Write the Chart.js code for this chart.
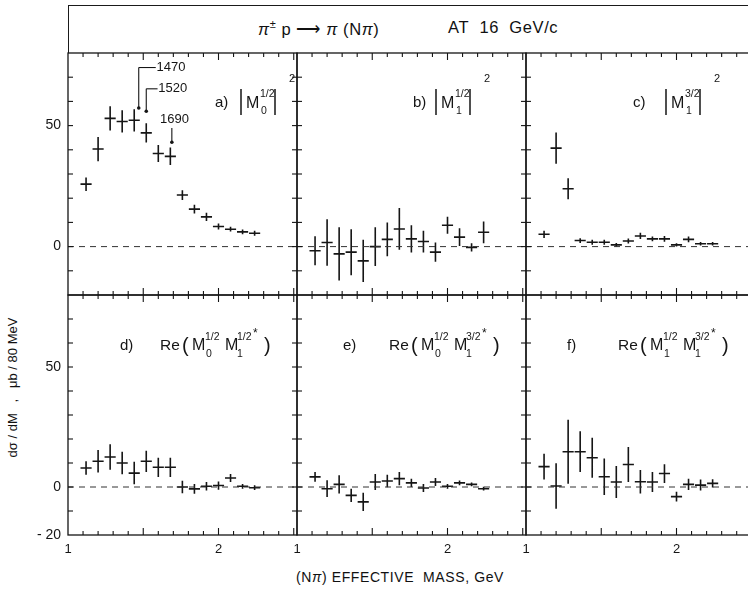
<!DOCTYPE html>
<html>
<head>
<meta charset="utf-8">
<script src="https://cdn.jsdelivr.net/npm/chart.js@4.4.0/dist/chart.umd.min.js"></script>
<style>
  html, body { margin: 0; padding: 0; background: #fff; overflow: hidden; }
  body { width: 748px; height: 592px; position: relative; font-family: "Liberation Sans", Arial, sans-serif; color: #111; }
  canvas { position: absolute; }
  #titlebox { position: absolute; left: 68px; top: 5px; width: 720px; height: 48px; border-top: 1.5px solid #1a1a1a; border-left: 1.5px solid #1a1a1a; box-sizing: border-box; }
  .t { position: absolute; white-space: nowrap; font-size: 16.5px; letter-spacing: 0.6px; }
  #ytitle { position: absolute; left: -88px; top: 380px; width: 200px; text-align: center; font-size: 13px; transform: rotate(-90deg); white-space: pre; }
  #xtitle { position: absolute; left: 250px; top: 569px; width: 300px; text-align: center; font-size: 14px; letter-spacing: 0.6px; }
</style>
</head>
<body>
<div id="titlebox"></div>
<div class="t" style="left:258px; top:18px;"><i>π</i><sup style="font-size:11px">±</sup> p &#10230; <i>π</i> (N<i>π</i>)</div>
<div class="t" style="left:448px; top:18px;">AT&nbsp; 16&nbsp; GeV/c</div>
<div id="ytitle">dσ / dM   ,   μb / 80 MeV</div>
<div id="xtitle">(N<i>π</i>) EFFECTIVE&nbsp; MASS, GeV</div>

<script>
// bin centres (GeV), 80 MeV bins
const massBins = [1.12, 1.20, 1.28, 1.36, 1.44, 1.52, 1.60, 1.68, 1.76, 1.84, 1.92, 2.00, 2.08, 2.16, 2.24];

// a) |M0 1/2|^2
const aVal = [25.8, 40.3, 53.0, 51.7, 52.2, 47.0, 38.5, 37.3, 21.3, 15.5, 12.3, 8.3, 7.2, 6.1, 5.5];
const aErr = [2.8, 5.0, 5.0, 4.6, 4.6, 4.0, 3.5, 3.6, 2.0, 1.8, 1.7, 1.2, 1.0, 1.0, 1.0];
// b) |M1 1/2|^2
const bVal = [-1.7, 1.7, -3.0, -2.3, -5.9, 0.0, 3.0, 7.3, 3.2, 2.1, -2.3, 8.8, 3.9, -0.3, 5.9];
const bErr = [6.0, 9.6, 11.0, 9.5, 8.7, 8.0, 7.0, 8.6, 5.6, 4.5, 4.0, 3.5, 3.7, 1.7, 4.5];
// c) |M1 3/2|^2
const cVal = [5.1, 40.7, 23.9, 2.5, 1.8, 1.8, 0.7, 2.3, 4.4, 3.2, 3.2, 0.7, 3.0, 1.2, 1.2];
const cErr = [1.5, 6.5, 4.3, 1.0, 1.0, 1.0, 0.8, 1.0, 1.3, 1.0, 1.2, 0.7, 1.2, 0.7, 0.7];
// d) Re(M0 1/2 M1 1/2*)
const dVal = [7.9, 10.7, 12.5, 10.0, 5.8, 10.7, 8.2, 8.2, 0.0, -0.8, 0.3, 0.6, 3.75, 0.3, -0.3];
const dErr = [2.8, 4.7, 5.3, 4.7, 4.7, 4.4, 4.0, 4.0, 2.6, 2.0, 1.8, 1.7, 1.7, 1.0, 1.0];
// e) Re(M0 1/2 M1 3/2*)
const eVal = [4.2, -0.7, 1.1, -3.5, -6.2, 2.1, 2.5, 3.5, 1.7, -0.4, 2.1, 0.3, 1.7, 1.1, -0.7];
const eErr = [2.0, 3.5, 3.8, 2.8, 3.8, 3.3, 2.6, 2.8, 1.7, 1.7, 1.7, 1.0, 1.0, 0.8, 0.8];
// f) Re(M1 1/2 M1 3/2*)
const fVal = [8.5, 0.4, 14.7, 14.7, 12.2, 4.3, 2.1, 9.4, 2.2, 2.1, 5.6, -4.0, 1.1, 0.8, 1.5];
const fErr = [5.4, 9.5, 13.3, 8.5, 8.3, 7.6, 6.7, 7.3, 4.9, 4.2, 3.9, 2.0, 2.3, 2.3, 1.7];

// tick labels
const xTickLabels = [1, 2];
const yTickLabelsTop = [50, 0];
const yTickLabelsBottom = [50, 0, -20];

// resonance markers in panel a
const resMass = [1.47, 1.52, 1.69];
const resLabel = ['1470', '1520', '1690'];
const resTip = [57.3, 55.9, 43.1];

const X_MIN = 1.0, X_MAX = 2.5216, Y_MIN = -20, Y_MAX = 80;
const HALF_BIN = 0.037;
const INK = '#151515';

function crossData(vals, errs) {
  const pts = [];
  massBins.forEach((m, i) => {
    const v = vals[i], e = errs[i];
    pts.push({x: m - HALF_BIN, y: v}, {x: m + HALF_BIN, y: v}, {x: m, y: null});
    pts.push({x: m, y: v - e}, {x: m, y: v + e}, {x: m, y: null});
  });
  return pts;
}

function txt(ctx, s, x, y, size, align, font) {
  ctx.font = (font || '') + size + 'px "Liberation Sans", Arial, sans-serif';
  ctx.textAlign = align || 'left';
  ctx.textBaseline = 'middle';
  ctx.fillText(s, x, y);
}
function seg(ctx, x1, y1, x2, y2) {
  ctx.beginPath(); ctx.moveTo(x1, y1); ctx.lineTo(x2, y2); ctx.stroke();
}

// |M ^sup _sub|^2 label
function absLabel(ctx, a, s) {
  const my = a.top + 50, bx = a.left + s.barX;
  txt(ctx, s.tag, a.left + s.tagX, my, 15);
  ctx.lineWidth = 1.5;
  seg(ctx, bx, my - 14, bx, my + 12);
  seg(ctx, bx + 34, my - 14, bx + 34, my + 12);
  txt(ctx, 'M', bx + 5, my + 1, 16);
  txt(ctx, s.sup, bx + 19, my - 9, 10.5);
  txt(ctx, s.sub, bx + 20, my + 8, 10.5);
  txt(ctx, '2', bx + 48, my - 24, 11);
}

// Re( M M * ) label
function reLabel(ctx, a, s) {
  const my = a.top + 51, L = a.left;
  txt(ctx, s.tag, L + s.tagX, my, 15);
  txt(ctx, 'Re', L + 92, my, 15.5);
  txt(ctx, '(', L + 114, my, 20);
  txt(ctx, 'M', L + 124, my, 16);
  txt(ctx, s.sup1, L + 137, my - 9, 10.5);
  txt(ctx, s.sub1, L + 138, my + 8, 10.5);
  txt(ctx, 'M', L + 157, my, 16);
  txt(ctx, s.sup2, L + 169, my - 9, 10.5);
  txt(ctx, s.sub2, L + 169, my + 8, 10.5);
  txt(ctx, '*', L + 185, my - 12, 12);
  txt(ctx, ')', L + 196, my, 20);
}

const panelFrame = {
  id: 'panelFrame',
  afterDraw(chart, args, o) {
    const {ctx, chartArea: a, scales: {x, y}} = chart;
    ctx.save();
    ctx.strokeStyle = INK;
    ctx.fillStyle = INK;
    ctx.lineWidth = 1.3;
    ctx.strokeRect(a.left, a.top, a.right - a.left, a.bottom - a.top);

    // x ticks every 0.1 GeV, longer at 1.5 and 2.0
    ctx.lineWidth = 1.1;
    for (let k = 1; k <= 15; k++) {
      const px = x.getPixelForValue(1 + k / 10);
      if (px > a.right - 2) continue;
      const len = (k % 5 === 0) ? 7 : 4;
      seg(ctx, px, a.top, px, a.top + len);
      seg(ctx, px, a.bottom, px, a.bottom - len);
    }
    // y ticks every 10
    for (let k = -1; k <= 7; k++) {
      const py = y.getPixelForValue(k * 10);
      seg(ctx, a.left, py, a.left + 5, py);
      seg(ctx, a.right, py, a.right - 5, py);
    }

    if (o.yLabels) {
      o.yLabels.forEach(v => txt(ctx, v < 0 ? '- ' + (-v) : String(v), a.left - 7, y.getPixelForValue(v), 14, 'right'));
    }
    if (o.xLabels) {
      xTickLabels.forEach(v => txt(ctx, String(v), x.getPixelForValue(v), a.bottom + 14, 13, 'center'));
    }

    if (o.abs) absLabel(ctx, a, o.abs);
    if (o.re) reLabel(ctx, a, o.re);

    if (o.resonances) {
      ctx.lineWidth = 1.1;
      const X = v => x.getPixelForValue(v), Y = v => y.getPixelForValue(v);
      // 1470
      seg(ctx, X(resMass[0]), Y(resTip[0]), X(resMass[0]), Y(74));
      seg(ctx, X(resMass[0]), Y(74), X(1.583), Y(74));
      txt(ctx, resLabel[0], X(1.588), Y(74), 13);
      // 1520
      seg(ctx, X(resMass[1]), Y(resTip[1]), X(resMass[1]), Y(65.2));
      seg(ctx, X(resMass[1]), Y(65.2), X(1.595), Y(65.2));
      txt(ctx, resLabel[1], X(1.60), Y(65.2), 13);
      // 1690
      seg(ctx, X(resMass[2]), Y(resTip[2]), X(resMass[2]), Y(49));
      txt(ctx, resLabel[2], X(1.708), Y(52.5), 13, 'center');
      resMass.forEach((m, i) => {
        ctx.beginPath(); ctx.arc(X(m), Y(resTip[i]), 1.8, 0, 2 * Math.PI); ctx.fill();
      });
    }
    ctx.restore();
  }
};

const colLeft = [68, 297, 526];
const rowTop = [53, 295];
const rowH = [242, 240];
const PW = 229;

const panels = [
  {r: 0, c: 0, vals: aVal, errs: aErr, yLabels: yTickLabelsTop, resonances: true,
   abs: {tag: 'a)', tagX: 147, barX: 173, sup: '1/2', sub: '0'}},
  {r: 0, c: 1, vals: bVal, errs: bErr,
   abs: {tag: 'b)', tagX: 116, barX: 139, sup: '1/2', sub: '1'}},
  {r: 0, c: 2, vals: cVal, errs: cErr,
   abs: {tag: 'c)', tagX: 107, barX: 140, sup: '3/2', sub: '1'}},
  {r: 1, c: 0, vals: dVal, errs: dErr, yLabels: yTickLabelsBottom,
   re: {tag: 'd)', tagX: 52, sup1: '1/2', sub1: '0', sup2: '1/2', sub2: '1'}},
  {r: 1, c: 1, vals: eVal, errs: eErr,
   re: {tag: 'e)', tagX: 46, sup1: '1/2', sub1: '0', sup2: '3/2', sub2: '1'}},
  {r: 1, c: 2, vals: fVal, errs: fErr,
   re: {tag: 'f)', tagX: 41, sup1: '1/2', sub1: '1', sup2: '3/2', sub2: '1'}}
];

panels.forEach(p => {
  const padL = p.c === 0 ? 45 : 3, padR = 3, padT = 3, padB = p.r === 1 ? 26 : 3;
  const cv = document.createElement('canvas');
  cv.width = PW + padL + padR;
  cv.height = rowH[p.r] + padT + padB;
  cv.style.left = (colLeft[p.c] - padL) + 'px';
  cv.style.top = (rowTop[p.r] - padT) + 'px';
  document.body.appendChild(cv);

  new Chart(cv.getContext('2d'), {
    type: 'scatter',
    data: {
      datasets: [
        {
          data: [{x: X_MIN, y: 0}, {x: X_MAX, y: 0}],
          showLine: true, borderColor: '#333', borderWidth: 1, borderDash: [6, 5],
          pointRadius: 0
        },
        {
          data: crossData(p.vals, p.errs),
          showLine: true, spanGaps: false, borderColor: INK, borderWidth: 1.6,
          borderCapStyle: 'butt', pointRadius: 0
        }
      ]
    },
    options: {
      responsive: false,
      animation: false,
      events: [],
      layout: {padding: {left: padL, right: padR, top: padT, bottom: padB}},
      scales: {
        x: {type: 'linear', min: X_MIN, max: X_MAX, display: false},
        y: {type: 'linear', min: Y_MIN, max: Y_MAX, display: false}
      },
      plugins: {
        legend: {display: false},
        tooltip: {enabled: false},
        panelFrame: {
          yLabels: p.yLabels,
          xLabels: p.r === 1,
          abs: p.abs,
          re: p.re,
          resonances: p.resonances
        }
      }
    },
    plugins: [panelFrame]
  });
});
</script>
</body>
</html>
